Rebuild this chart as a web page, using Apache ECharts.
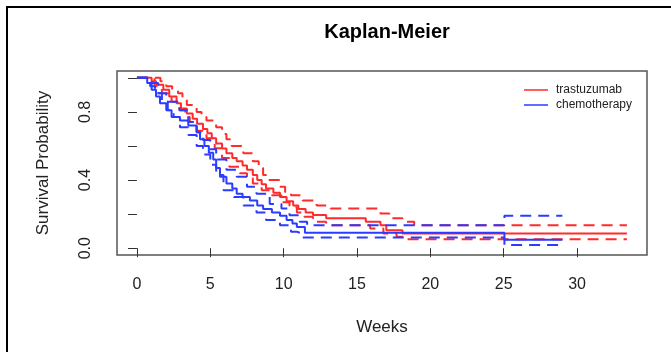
<!DOCTYPE html>
<html>
<head>
<meta charset="utf-8">
<script src="https://cdn.jsdelivr.net/npm/echarts@6/dist/echarts.min.js"></script>
<style>
  html, body { margin: 0; padding: 0; background: #fff; }
  #chart { width: 671px; height: 352px; }
</style>
</head>
<body>
<div id="chart"></div>
<script>
// axis ticks
const xTicks = [0, 5, 10, 15, 20, 25, 30]
const yTicks = [0, 0.2, 0.4, 0.6, 0.8, 1]
const yLabels = [0, 0.4, 0.8]

// Kaplan-Meier steps [week, survival]
const trastuzumab = [[0, 1], [1.0, 0.98], [1.3, 0.96], [1.8, 0.93], [2.2, 0.89], [2.7, 0.85], [3.0, 0.82], [3.4, 0.79], [3.8, 0.76], [4.1, 0.73], [4.5, 0.7], [4.8, 0.675], [5.1, 0.645], [5.4, 0.615], [5.8, 0.585], [6.1, 0.557], [6.5, 0.53], [6.8, 0.51], [7.2, 0.485], [7.5, 0.46], [7.9, 0.43], [8.2, 0.4], [8.5, 0.375], [8.8, 0.35], [9.3, 0.325], [9.75, 0.3], [10.2, 0.275], [10.65, 0.25], [11.0, 0.23], [11.5, 0.21], [12.0, 0.195], [12.9, 0.175], [15.6, 0.155], [16.6, 0.135], [17.0, 0.106], [18.1, 0.086], [33.4, 0.086]]
const trastuzumabUpper = [[0, 1], [1.6, 0.98], [2.0, 0.95], [2.4, 0.93], [2.8, 0.91], [3.1, 0.87], [3.4, 0.84], [4.07, 0.8], [4.4, 0.77], [4.74, 0.75], [5.4, 0.71], [5.8, 0.67], [6.1, 0.64], [6.45, 0.6], [7.25, 0.557], [7.9, 0.51], [8.3, 0.47], [8.6, 0.43], [8.8, 0.4], [9.75, 0.36], [10.1, 0.33], [10.5, 0.31], [11.3, 0.28], [12.25, 0.25], [13.2, 0.233], [16.6, 0.204], [17.2, 0.175], [18.1, 0.155], [18.9, 0.135], [33.4, 0.135]]
const trastuzumabLower = [[0, 1], [1.2, 0.95], [1.7, 0.91], [2.36, 0.86], [2.9, 0.81], [3.3, 0.77], [3.6, 0.74], [4.07, 0.69], [4.74, 0.645], [5.3, 0.586], [5.8, 0.53], [6.3, 0.478], [7.0, 0.44], [7.5, 0.41], [7.9, 0.38], [8.5, 0.34], [9.05, 0.31], [9.85, 0.27], [10.4, 0.24], [10.9, 0.21], [11.4, 0.184], [12.0, 0.155], [12.9, 0.135], [15.9, 0.116], [16.8, 0.086], [17.7, 0.067], [18.4, 0.053], [33.4, 0.053]]

const chemotherapy = [[0, 1], [0.7, 0.97], [1.0, 0.93], [1.3, 0.89], [1.57, 0.85], [2.0, 0.81], [2.36, 0.77], [2.93, 0.75], [3.5, 0.72], [4.07, 0.68], [4.3, 0.64], [4.6, 0.6], [4.9, 0.56], [5.2, 0.52], [5.4, 0.47], [5.66, 0.42], [6.1, 0.38], [6.5, 0.35], [6.8, 0.32], [7.2, 0.3], [7.7, 0.28], [8.2, 0.25], [8.6, 0.23], [9.2, 0.21], [9.75, 0.19], [10.2, 0.165], [10.6, 0.145], [10.9, 0.125], [11.45, 0.09], [25.05, 0.05], [29.0, 0.05]]
const chemotherapyUpper = [[0, 1], [1.0, 0.97], [1.45, 0.91], [2.0, 0.86], [2.9, 0.81], [3.5, 0.74], [4.07, 0.68], [4.5, 0.635], [5.0, 0.58], [5.4, 0.52], [6.1, 0.46], [6.8, 0.42], [7.5, 0.36], [8.15, 0.32], [9.05, 0.26], [9.85, 0.233], [10.4, 0.194], [11.1, 0.155], [11.6, 0.135], [25.05, 0.19], [29.0, 0.19]]
const chemotherapyLower = [[0, 1], [0.9, 0.95], [1.23, 0.91], [1.7, 0.86], [2.1, 0.81], [2.5, 0.77], [2.93, 0.71], [3.5, 0.665], [4.07, 0.6], [4.5, 0.55], [5.0, 0.49], [5.4, 0.43], [5.9, 0.34], [6.6, 0.3], [7.25, 0.25], [8.15, 0.21], [8.8, 0.165], [9.75, 0.135], [10.5, 0.096], [10.9, 0.086], [11.3, 0.063], [25.05, 0.018], [29.0, 0.018]]

const red = '#ff2a2a'
const blue = '#2a3dff'
const font = 'Liberation Sans, Arial, sans-serif'

const stepLine = (name, data, color, dashed) => {
  return {
    name: name,
    type: 'line',
    step: 'end',
    data: data,
    symbol: 'none',
    silent: true,
    lineStyle: {
      color: color,
      width: 2,
      type: dashed ? [11, 7] : 'solid'
    },
    itemStyle: { color: color }
  }
}

const myChart = echarts.init(document.getElementById('chart'))
const option = {
  animation: false,
  title: {
    text: 'Kaplan-Meier',
    left: 382,
    top: 17,
    textAlign: 'center',
    textStyle: {
      color: '#000',
      fontFamily: font,
      fontSize: 20,
      fontWeight: 'bold'
    }
  },
  legend: {
    left: 519,
    top: 79,
    orient: 'vertical',
    icon: 'rect',
    itemWidth: 24,
    itemHeight: 1.5,
    itemGap: 3,
    data: ['trastuzumab', 'chemotherapy'],
    textStyle: {
      color: '#222',
      fontFamily: font,
      fontSize: 12,
      padding: [0, 0, 0, 3]
    }
  },
  grid: {
    left: 117,
    right: 24,
    top: 71,
    bottom: 97,
    show: true,
    borderColor: '#555',
    borderWidth: 1.5
  },
  xAxis: {
    type: 'value',
    min: -1.36,
    max: 34.77,
    name: 'Weeks',
    nameLocation: 'middle',
    nameGap: 64,
    nameTextStyle: { color: '#222', fontFamily: font, fontSize: 17 },
    axisLine: { show: false },
    splitLine: { show: false },
    axisTick: {
      show: true,
      length: 9,
      customValues: xTicks,
      lineStyle: { color: '#333', width: 1 }
    },
    axisLabel: {
      customValues: xTicks,
      margin: 22,
      color: '#222',
      fontFamily: font,
      fontSize: 16
    }
  },
  yAxis: {
    type: 'value',
    min: -0.04,
    max: 1.04,
    name: 'Survival Probability',
    nameLocation: 'middle',
    nameGap: 65,
    nameTextStyle: { color: '#222', fontFamily: font, fontSize: 17 },
    axisLine: { show: false },
    splitLine: { show: false },
    axisTick: {
      show: true,
      length: 9,
      customValues: yTicks,
      lineStyle: { color: '#333', width: 1 }
    },
    axisLabel: {
      customValues: yLabels,
      rotate: 90,
      margin: 23,
      color: '#222',
      fontFamily: font,
      fontSize: 16,
      formatter: (value) => value.toFixed(1)
    }
  },
  graphic: [
    {
      type: 'rect',
      silent: true,
      shape: { x: 7, y: 7, width: 700, height: 400 },
      style: { fill: 'none', stroke: '#000', lineWidth: 2 }
    }
  ],
  series: [
    stepLine('trastuzumab', trastuzumab, red, false),
    stepLine('trastuzumab upper', trastuzumabUpper, red, true),
    stepLine('trastuzumab lower', trastuzumabLower, red, true),
    stepLine('chemotherapy', chemotherapy, blue, false),
    stepLine('chemotherapy upper', chemotherapyUpper, blue, true),
    stepLine('chemotherapy lower', chemotherapyLower, blue, true)
  ]
}
myChart.setOption(option)
</script>
</body>
</html>
